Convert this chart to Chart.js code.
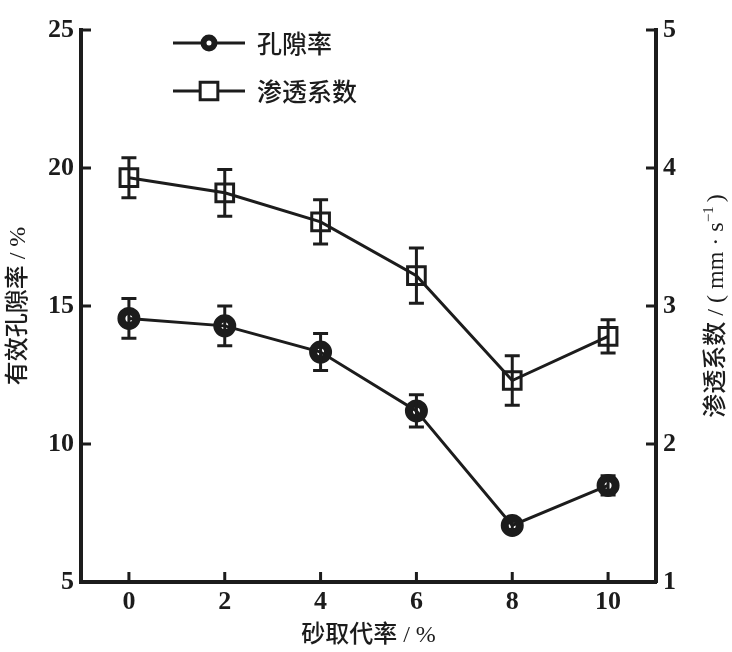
<!DOCTYPE html>
<html><head><meta charset="utf-8">
<script src="https://cdn.jsdelivr.net/npm/chart.js@4.4.0/dist/chart.umd.min.js"></script>
<style>html,body{margin:0;padding:0;background:#fff;} canvas{display:block;}</style>
</head><body>
<canvas id="c" width="732" height="652"></canvas>
<script>
const replacementRates = [0, 2, 4, 6, 8, 10];
const porosity = [14.55, 14.28, 13.33, 11.2, 7.05, 8.5];
const porosityErr = [0.72, 0.72, 0.67, 0.58, 0.15, 0.35];
const permeability = [3.93, 3.82, 3.61, 3.22, 2.46, 2.78];
const permeabilityErr = [0.145, 0.17, 0.16, 0.2, 0.18, 0.12];
const xTicks = [0, 2, 4, 6, 8, 10];
const leftTicks = [5, 10, 15, 20, 25];
const rightTicks = [1, 2, 3, 4, 5];
const seriesNames = ['孔隙率', '渗透系数'];
const xTitle = '砂取代率 / %';
const leftTitle = '有效孔隙率 / %';
const rightTitleParts = ['渗透系数 / ( mm · s', '−1', ')'];

const INK = '#1c1c1c';
const NUM_FONT = "'Liberation Serif', 'Times New Roman', serif";
const CJK_FONT = "'Liberation Serif', 'Noto Sans CJK SC', serif";

const errors = [porosityErr, permeabilityErr];

const extras = {
  id: 'extras',
  afterDatasetsDraw(chart) {
    const ctx = chart.ctx;
    const xs = chart.scales.x;
    ctx.save();
    ctx.strokeStyle = INK;
    ctx.lineWidth = 3;
    chart.data.datasets.forEach((ds, di) => {
      const ys = chart.scales[ds.yAxisID];
      const err = errors[di];
      ds.data.forEach((p, i) => {
        const x = xs.getPixelForValue(p.x);
        const yt = ys.getPixelForValue(p.y + err[i]);
        const yb = ys.getPixelForValue(p.y - err[i]);
        ctx.beginPath();
        ctx.moveTo(x, yt); ctx.lineTo(x, yb);
        ctx.moveTo(x - 7.5, yt); ctx.lineTo(x + 7.5, yt);
        ctx.moveTo(x - 7.5, yb); ctx.lineTo(x + 7.5, yb);
        ctx.stroke();
      });
    });
    ctx.restore();
  },
  afterDraw(chart) {
    const ctx = chart.ctx;
    const a = chart.chartArea;
    const xs = chart.scales.x, yl = chart.scales.y, yr = chart.scales.y1;
    ctx.save();
    ctx.strokeStyle = INK;
    ctx.lineWidth = 3;
    // inward ticks
    ctx.beginPath();
    leftTicks.forEach(v => { const y = yl.getPixelForValue(v); ctx.moveTo(a.left, y); ctx.lineTo(a.left + 10, y); });
    rightTicks.forEach(v => { const y = yr.getPixelForValue(v); ctx.moveTo(a.right, y); ctx.lineTo(a.right - 10, y); });
    xTicks.forEach(v => { const x = xs.getPixelForValue(v); ctx.moveTo(x, a.bottom); ctx.lineTo(x, a.bottom - 10); });
    ctx.stroke();

    // legend
    const items = [
      { y: 43, ds: chart.data.datasets[0] },
      { y: 91, ds: chart.data.datasets[1] }
    ];
    items.forEach(it => {
      ctx.lineWidth = 3;
      ctx.strokeStyle = INK;
      ctx.beginPath();
      ctx.moveTo(173, it.y); ctx.lineTo(245, it.y);
      ctx.stroke();
      ctx.fillStyle = '#ffffff';
      ctx.strokeStyle = INK;
      const isCircle = it.ds.pointStyle === 'circle';
      ctx.lineWidth = isCircle ? 6 : 3;
      Chart.helpers.drawPoint(ctx, {
        pointStyle: it.ds.pointStyle,
        radius: isCircle ? 5.5 : 12.5,
        borderWidth: isCircle ? 6 : 3,
        rotation: 0
      }, 209, it.y);
      ctx.fillStyle = INK;
      ctx.font = "500 25px 'Noto Sans CJK SC'";
      ctx.textAlign = 'left';
      ctx.textBaseline = 'middle';
      ctx.fillText(it.ds.label, 257, it.y);
    });

    // axis titles
    ctx.fillStyle = INK;
    ctx.font = "500 24px " + CJK_FONT;
    ctx.textAlign = 'center';
    ctx.textBaseline = 'middle';
    ctx.fillText(xTitle, (a.left + a.right) / 2, 636);

    ctx.save();
    ctx.translate(19, (a.top + a.bottom) / 2);
    ctx.rotate(-Math.PI / 2);
    ctx.fillText(leftTitle, 0, 0);
    ctx.restore();

    ctx.save();
    ctx.translate(717, (a.top + a.bottom) / 2);
    ctx.rotate(-Math.PI / 2);
    ctx.textAlign = 'left';
    const fBig = "500 24px " + CJK_FONT, fSmall = "15px " + NUM_FONT;
    ctx.font = fBig; const w0 = ctx.measureText(rightTitleParts[0]).width;
    ctx.font = fSmall; const w1 = ctx.measureText(rightTitleParts[1]).width;
    ctx.font = fBig; const w2 = ctx.measureText(rightTitleParts[2]).width;
    let x0 = -(w0 + w1 + w2 + 4) / 2;
    ctx.font = fBig; ctx.fillText(rightTitleParts[0], x0, 0);
    ctx.font = fSmall; ctx.fillText(rightTitleParts[1], x0 + w0, -8);
    ctx.font = fBig; ctx.fillText(rightTitleParts[2], x0 + w0 + w1 + 4, 0);
    ctx.restore();

    ctx.restore();
  }
};

const tickFont = { family: NUM_FONT, size: 26, weight: 'bold' };

new Chart(document.getElementById('c'), {
  type: 'line',
  data: {
    datasets: [
      {
        label: seriesNames[0],
        data: replacementRates.map((x, i) => ({ x, y: porosity[i] })),
        yAxisID: 'y',
        borderColor: INK, borderWidth: 3,
        pointStyle: 'circle', pointRadius: 7.5, pointBorderWidth: 8,
        pointBackgroundColor: 'rgba(0,0,0,0)', pointBorderColor: INK,
        tension: 0
      },
      {
        label: seriesNames[1],
        data: replacementRates.map((x, i) => ({ x, y: permeability[i] })),
        yAxisID: 'y1',
        borderColor: INK, borderWidth: 3,
        pointStyle: 'rect', pointRadius: 12.5, pointBorderWidth: 3,
        pointBackgroundColor: 'rgba(0,0,0,0)', pointBorderColor: INK,
        tension: 0
      }
    ]
  },
  options: {
    responsive: false,
    animation: false,
    devicePixelRatio: 1,
    layout: { padding: { top: 30, right: 0, bottom: 0, left: 0 } },
    plugins: { legend: { display: false }, tooltip: { enabled: false } },
    scales: {
      x: {
        type: 'linear', min: -1, max: 11,
        grid: { display: false, drawTicks: false },
        border: { display: true, color: INK, width: 4 },
        ticks: { font: tickFont, color: INK, padding: 5 },
        afterBuildTicks: s => { s.ticks = xTicks.map(v => ({ value: v })); },
        afterFit: s => { s.height = 70; }
      },
      y: {
        type: 'linear', position: 'left', min: 5, max: 25,
        grid: { display: false, drawTicks: false },
        border: { display: true, color: INK, width: 4 },
        ticks: { font: tickFont, color: INK, padding: 7 },
        afterBuildTicks: s => { s.ticks = leftTicks.map(v => ({ value: v })); },
        afterFit: s => { s.width = 81; }
      },
      y1: {
        type: 'linear', position: 'right', min: 1, max: 5,
        grid: { display: false, drawTicks: false },
        border: { display: true, color: INK, width: 4 },
        ticks: { font: tickFont, color: INK, padding: 7 },
        afterBuildTicks: s => { s.ticks = rightTicks.map(v => ({ value: v })); },
        afterFit: s => { s.width = 76; }
      }
    }
  },
  plugins: [extras]
});
</script>
</body></html>
